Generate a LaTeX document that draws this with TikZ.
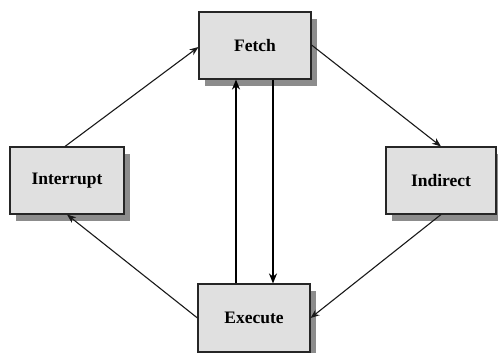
\documentclass[tikz,border=0pt]{standalone}
\usepackage{fontspec}
\setmainfont{Liberation Serif}
\usetikzlibrary{shadows,arrows.meta}
\begin{document}
\begin{tikzpicture}[x=1pt,y=1pt,
  stage/.style={draw=black!85, line width=1.1pt, fill=black!12,
    minimum height=67pt, inner sep=0pt,
    font=\fontsize{17.5}{20}\selectfont\bfseries,
    drop shadow={shadow xshift=6pt, shadow yshift=-7pt, fill=black!45, opacity=1}},
  flow/.style={draw=black!90, line width=1.1pt, -{Stealth[length=9pt,width=7pt]}},
  cycle/.style={draw=black, line width=2.4pt, -{Stealth[length=10pt,width=8pt]}}]
  \useasboundingbox (0,0) rectangle (498,353);
  \fill[white] (0,0) rectangle (498,353);

  % the four stages of the instruction cycle
  \node[stage, minimum width=112pt] (fetch)     at (255,307.5) {Fetch};
  \node[stage, minimum width=114pt] (interrupt) at (67,172.5)  {Interrupt};
  \node[stage, minimum width=110pt] (indirect)  at (441,172.5) {Indirect};
  \node[stage, minimum width=112pt, minimum height=68pt] (execute) at (254,35) {Execute};

  % transitions around the cycle
  \draw[flow] (interrupt.north) ++(-2,0) coordinate (i1) -- (fetch.west |- 0,306) coordinate (f1);
  \draw[flow] (fetch.east |- 0,308) -- (indirect.north);
  \draw[flow] (indirect.south) -- (execute.east |- 0,35);
  \draw[flow] (execute.west |- 0,35) -- (interrupt.south);

  % direct fetch/execute pair
  \draw[cycle] (execute.north -| 236,0) -- (fetch.south -| 236,0);
  \draw[cycle] (fetch.south -| 273,0) -- (execute.north -| 273,0);
\end{tikzpicture}
\end{document}
